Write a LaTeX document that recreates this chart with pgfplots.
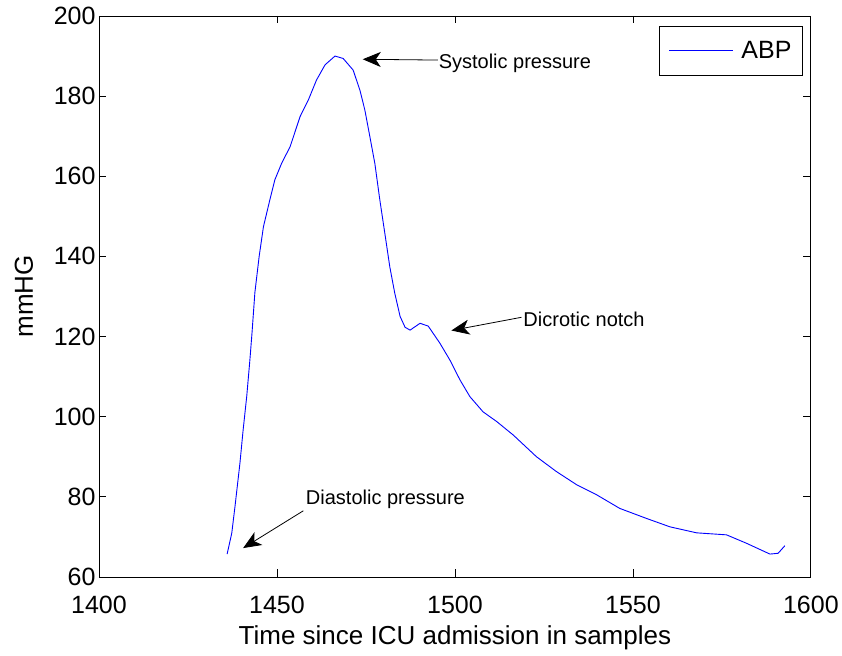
\documentclass[border=0pt]{standalone}
\usepackage{fontspec}
\setmainfont{Liberation Sans}
\usepackage{pgfplots}
\pgfplotsset{compat=1.18}
\usetikzlibrary{arrows.meta}

\begin{document}
\begin{tikzpicture}
\begin{axis}[
scale only axis,
width=712bp, height=561bp,
xmin=1400, xmax=1600,
ymin=60, ymax=200,
xtick={1400,1450,...,1600},
ytick={60,80,...,200},
tick align=inside,
major tick length=7.5bp,
axis line style={line width=0.8bp},
every tick/.style={black, line width=0.8bp},
/pgf/number format/assume math mode=true,
/pgf/number format/1000 sep={},
tick label style={font=\fontsize{25bp}{30bp}\selectfont},
xticklabel style={yshift=-16bp},
label style={font=\fontsize{26bp}{31bp}\selectfont},
xlabel={Time since ICU admission in samples},
xlabel style={at={([yshift=-68bp]axis description cs:0.5,0)}, anchor=base},
ylabel={mmHG},
ylabel style={at={([xshift=-66bp]axis description cs:0,0.5)}, anchor=base, rotate=0},
legend style={
  at={(axis description cs:1,1)}, xshift=-8bp, yshift=-10bp,
  anchor=north east, draw=black, line width=0.8bp,
  font=\fontsize{25bp}{30bp}\selectfont,
  inner xsep=9bp, inner ysep=13bp},
legend image code/.code={\draw[#1] (0bp,0bp) -- (64bp,0bp); \path (70bp,0bp);},
]
\addplot[blue, line width=0.9bp] table {
1436.0 65.7
1437.3 70.9
1438.2 77.5
1439.6 88.4
1440.5 96.7
1441.5 105.0
1442.4 114.2
1443.0 121.0
1443.8 131.0
1445.0 140.0
1446.2 147.4
1448.0 154.1
1449.4 159.1
1451.3 163.2
1453.7 167.4
1456.5 174.9
1458.8 179.0
1461.1 184.0
1463.5 187.8
1466.3 190.0
1468.6 189.4
1471.4 186.5
1473.3 181.5
1474.7 176.5
1476.1 169.9
1477.5 163.2
1478.9 154.1
1480.3 145.8
1481.7 137.4
1483.1 130.8
1484.6 125.0
1486.0 122.3
1487.4 121.6
1490.2 123.3
1492.5 122.6
1495.8 118.3
1498.6 114.1
1501.4 109.2
1504.2 105.0
1507.9 101.2
1511.7 98.8
1516.4 95.4
1522.9 90.0
1528.5 86.3
1534.2 83.0
1539.8 80.5
1546.3 77.1
1553.8 74.6
1560.4 72.5
1567.9 71.0
1576.3 70.5
1581.9 68.4
1588.5 65.7
1590.8 65.9
1592.7 67.8
};
\addlegendentry{ABP}

% annotations
\draw[-{Stealth[length=18bp, width=15bp, inset=5bp]}, line width=0.8bp]
  (axis cs:1495.2,189.0) -- (axis cs:1474.1,189.2);
\node[anchor=base west, inner sep=0pt, font=\fontsize{20bp}{24bp}\selectfont]
  at (axis cs:1495.4,186.8) {Systolic pressure};
\draw[-{Stealth[length=18bp, width=15bp, inset=5bp]}, line width=0.8bp]
  (axis cs:1518.7,124.8) -- (axis cs:1499.0,121.5);
\node[anchor=base west, inner sep=0pt, font=\fontsize{20bp}{24bp}\selectfont]
  at (axis cs:1519.2,122.5) {Dicrotic notch};
\draw[-{Stealth[length=18bp, width=15bp, inset=5bp]}, line width=0.8bp]
  (axis cs:1457.4,76.5) -- (axis cs:1440.5,67.2);
\node[anchor=base west, inner sep=0pt, font=\fontsize{20bp}{24bp}\selectfont]
  at (axis cs:1458.1,78.0) {Diastolic pressure};
\end{axis}
\path (-99bp,-79bp) rectangle (743bp,577bp);
\end{tikzpicture}
\end{document}
